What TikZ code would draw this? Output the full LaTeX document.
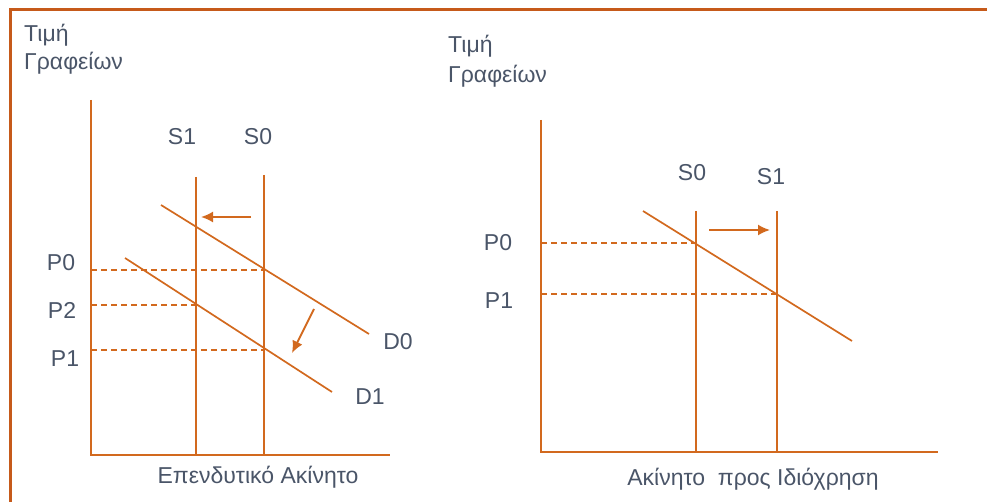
\documentclass[tikz,border=0pt]{standalone}
\usepackage{fontspec}
\setmainfont{Liberation Sans}
\usetikzlibrary{arrows.meta}
\definecolor{curve}{HTML}{D2691E}
\definecolor{rim}{HTML}{C65A1A}
\definecolor{ink}{HTML}{4A5568}
\tikzset{gr/.style={x=1pt,y=-1pt,font=\fontsize{23}{27}\selectfont},
  lbl/.style={ink,inner sep=0pt},
  ln/.style={curve,line width=1.7pt},
  guide/.style={curve,line width=1.4pt,dash pattern=on 6pt off 4pt},
  movearrow/.style={curve,line width=1.8pt,-{Latex[length=12pt,width=11pt]}}}

\begin{document}
\begin{tikzpicture}[gr]
  \useasboundingbox (0,0) rectangle (987,502);
  \draw[rim,line width=3pt] (10,510)--(10,10)--(995,10);
  % left panel: investment property
  \node[lbl,anchor=base west] (lT1) at (24,42){Τιμή};\node[lbl,anchor=base west] (lT2) at (24,70){Γραφείων};
  \coordinate (lY) at (91,100);\coordinate (lO) at (91,455);\coordinate (lX) at (390,455);
  \draw[ln] (lY)--(lO)--(lX);
  \node[lbl,anchor=base] (lXl) at (258,483){Επενδυτικό Ακίνητο};
  \coordinate (ls1t) at (196,177);\coordinate (ls1b) at (196,455);
  \coordinate (ls0t) at (264,175);\coordinate (ls0b) at (264,455);
  \draw[ln] (ls1t)--(ls1b);\draw[ln] (ls0t)--(ls0b);
  \node[lbl] (lS1) at (182,137){S1};\node[lbl] (lS0) at (258,137){S0};
  \coordinate (ld0a) at (161,205);\coordinate (ld0b) at (369,334);
  \coordinate (ld1a) at (125,258);\coordinate (ld1b) at (332,392);
  \draw[ln] (ld0a)--(ld0b);\draw[ln] (ld1a)--(ld1b);
  \node[lbl] (lD0) at (398,342){D0};\node[lbl] (lD1) at (370,397){D1};
  \coordinate (lp0a) at (91,270);\coordinate (lp0b) at (264,270);
  \coordinate (lp2a) at (91,305);\coordinate (lp2b) at (196,305);
  \coordinate (lp1a) at (91,350);\coordinate (lp1b) at (264,350);
  \draw[guide] (lp0a)--(lp0b);\draw[guide] (lp2a)--(lp2b);\draw[guide] (lp1a)--(lp1b);
  \node[lbl] (lP0) at (61,263){P0};\node[lbl] (lP2) at (62,310){P2};\node[lbl] (lP1) at (65,359){P1};
  \coordinate (lm1a) at (251,217);\coordinate (lm1b) at (201,217);
  \coordinate (lm2a) at (314,309);\coordinate (lm2b) at (292,353);
  \draw[movearrow] (lm1a)--(lm1b);\draw[movearrow] (lm2a)--(lm2b);
  % right panel: owner-occupied property
  \node[lbl,anchor=base west] (rT1) at (448,53){Τιμή};\node[lbl,anchor=base west] (rT2) at (448,83){Γραφείων};
  \coordinate (rY) at (541,120);\coordinate (rO) at (541,452);\coordinate (rX) at (938,452);
  \draw[ln] (rY)--(rO)--(rX);
  \node[lbl,anchor=base] (rXl) at (753,485){Ακίνητο\ \ προς Ιδιόχρηση};
  \coordinate (rs0t) at (696,211);\coordinate (rs0b) at (696,452);
  \coordinate (rs1t) at (777,211);\coordinate (rs1b) at (777,452);
  \draw[ln] (rs0t)--(rs0b);\draw[ln] (rs1t)--(rs1b);
  \node[lbl] (rS0) at (692,173){S0};\node[lbl] (rS1) at (771,177){S1};
  \coordinate (rda) at (643,211);\coordinate (rdb) at (852,341);
  \draw[ln] (rda)--(rdb);
  \coordinate (rp0a) at (541,243);\coordinate (rp0b) at (696,243);
  \coordinate (rp1a) at (541,294);\coordinate (rp1b) at (777,294);
  \draw[guide] (rp0a)--(rp0b);\draw[guide] (rp1a)--(rp1b);
  \node[lbl] (rP0) at (498,243){P0};\node[lbl] (rP1) at (499,301){P1};
  \coordinate (rma) at (709,230);\coordinate (rmb) at (770,230);
  \draw[movearrow] (rma)--(rmb);
\end{tikzpicture}
\end{document}
